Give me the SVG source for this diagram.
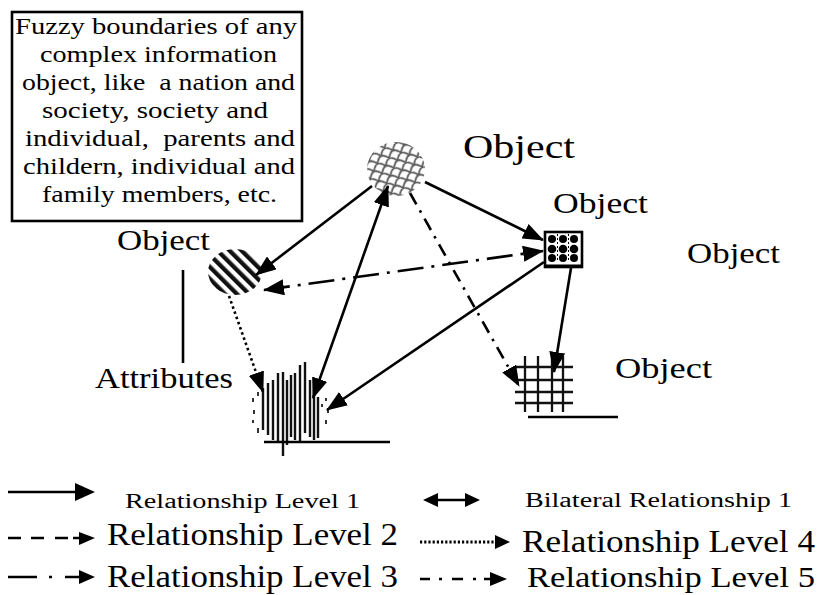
<svg xmlns="http://www.w3.org/2000/svg" width="821" height="595" viewBox="0 0 821 595">
<style>
text{font-family:"Liberation Serif","Times New Roman",serif;fill:#000}
.con{stroke:#000;stroke-width:2.6;fill:none}
.bar{stroke:#111;stroke-width:2.4;fill:none}
</style>
<defs>
<marker id="ah" markerUnits="userSpaceOnUse" markerWidth="21" markerHeight="16" refX="20" refY="8" orient="auto-start-reverse" viewBox="0 0 21 16"><path d="M0,0 L21,8 L0,16 z" fill="#000"/></marker>
<pattern id="scales" patternUnits="userSpaceOnUse" width="13" height="11" patternTransform="rotate(-25)">
<rect width="13" height="11" fill="#fff"/>
<path d="M0,11 Q6.5,0 13,11 M-6.5,5.5 Q0,-5.5 6.5,5.5 M6.5,5.5 Q13,-5.5 19.5,5.5" stroke="#5a5a5a" stroke-width="1.8" fill="none"/>
</pattern>
<pattern id="stripes" patternUnits="userSpaceOnUse" width="8.5" height="8.5" patternTransform="rotate(-45)">
<rect width="8.5" height="8.5" fill="#fff"/>
<rect width="4.3" height="8.5" fill="#111"/>
</pattern>
</defs>
<rect width="821" height="595" fill="#fff"/>

<g id="textbox">
<rect x="12" y="12" width="290" height="209" fill="#fff" stroke="#000" stroke-width="2.6"/>
<g font-size="23">
<text x="15" y="34" textLength="282" lengthAdjust="spacingAndGlyphs">Fuzzy boundaries of any</text>
<text x="40" y="62" textLength="237" lengthAdjust="spacingAndGlyphs">complex information</text>
<text x="22" y="90" textLength="273" lengthAdjust="spacingAndGlyphs" xml:space="preserve">object, like  a nation and</text>
<text x="42" y="118" textLength="226" lengthAdjust="spacingAndGlyphs">society, society and</text>
<text x="25" y="146" textLength="270" lengthAdjust="spacingAndGlyphs" xml:space="preserve">individual,  parents and</text>
<text x="23" y="174" textLength="272" lengthAdjust="spacingAndGlyphs">childern, individual and</text>
<text x="42" y="202" textLength="235" lengthAdjust="spacingAndGlyphs">family members, etc.</text>
</g>
</g>

<g id="labels">
<text x="463" y="158" font-size="34" textLength="112" lengthAdjust="spacingAndGlyphs">Object</text>
<text x="553" y="213" font-size="29" textLength="95" lengthAdjust="spacingAndGlyphs">Object</text>
<text x="687" y="263" font-size="29" textLength="93" lengthAdjust="spacingAndGlyphs">Object</text>
<text x="117" y="250" font-size="29" textLength="93" lengthAdjust="spacingAndGlyphs">Object</text>
<text x="615" y="378" font-size="29" textLength="97" lengthAdjust="spacingAndGlyphs">Object</text>
<text x="95" y="388" font-size="29" textLength="138" lengthAdjust="spacingAndGlyphs">Attributes</text>
<line x1="183" y1="270" x2="183" y2="363" stroke="#000" stroke-width="2.6"/>
</g>

<g id="node-top">
<ellipse cx="396" cy="169" rx="29" ry="27" fill="url(#scales)"/>
</g>

<g id="node-left">
<ellipse cx="235" cy="272" rx="27" ry="23" fill="url(#stripes)"/>
</g>

<g id="node-right">
<rect x="545" y="232" width="37" height="35" fill="#fff" stroke="#000" stroke-width="2.6"/>
<line x1="545" y1="266" x2="582" y2="266" stroke="#000" stroke-width="3"/>
<g stroke="#000" stroke-width="1" stroke-dasharray="2 2">
<line x1="557.5" y1="234" x2="557.5" y2="262"/>
<line x1="568.5" y1="234" x2="568.5" y2="262"/>
</g>
<g fill="#000">
<circle cx="552" cy="239" r="4"/><circle cx="563" cy="239" r="4"/><circle cx="574" cy="239" r="4"/>
<circle cx="552" cy="249" r="4.3"/><circle cx="563" cy="249" r="4.3"/><circle cx="574" cy="249" r="4.3"/>
<circle cx="552" cy="258" r="4"/><circle cx="563" cy="258" r="4"/><circle cx="574" cy="258" r="4"/>
</g>
</g>

<g id="node-fuzzy">
<path class="bar" d="M263,388V430 M268,383V435 M273,380V440 M278,373V443 M283,372V456 M287,380V445 M291,375V437 M295,373V440 M300,365V443 M305,362V433 M310,380V437 M314,390V440 M318,397V438"/>
<path d="M253,398V402 M254,410V414 M253,420V423 M258,392V396 M258,428V433 M326,398V401 M328,408V413 M326,420V424 M322,404V407" stroke="#333" stroke-width="2" fill="none"/>
<line x1="264" y1="442" x2="390" y2="442" stroke="#000" stroke-width="2.6"/>
</g>

<g id="node-grid">
<g stroke="#111" stroke-width="2.3">
<line x1="525" y1="356" x2="525" y2="412"/>
<line x1="538" y1="356" x2="538" y2="412"/>
<line x1="552" y1="356" x2="552" y2="412"/>
<line x1="563" y1="356" x2="563" y2="412"/>
<line x1="515" y1="367" x2="573" y2="367"/>
<line x1="515" y1="380" x2="573" y2="380"/>
<line x1="515" y1="392" x2="573" y2="392"/>
<line x1="515" y1="403" x2="573" y2="403"/>
</g>
<line x1="528" y1="417" x2="618" y2="417" stroke="#000" stroke-width="2.6"/>
</g>

<g id="connectors">
<line class="con" x1="372" y1="186" x2="256" y2="275" marker-end="url(#ah)"/>
<line class="con" x1="425" y1="182" x2="543" y2="240" marker-end="url(#ah)"/>
<line class="con" x1="388" y1="186" x2="313" y2="398" marker-start="url(#ah)" marker-end="url(#ah)"/>
<line class="con" x1="544" y1="262" x2="327" y2="410" marker-end="url(#ah)"/>
<line class="con" x1="571" y1="268" x2="554" y2="372" marker-end="url(#ah)"/>
<line class="con" x1="410" y1="193" x2="519" y2="386" stroke-dasharray="13 7 2.5 7" marker-end="url(#ah)"/>
<line class="con" x1="264" y1="290" x2="543" y2="251" stroke-dasharray="26 8 3 8" marker-start="url(#ah)" marker-end="url(#ah)"/>
<line class="con" x1="229" y1="296" x2="263" y2="392" stroke-width="3" stroke-dasharray="2.5 3" marker-end="url(#ah)"/>
</g>

<g id="legend">
<line x1="8" y1="492" x2="78" y2="492" stroke="#000" stroke-width="2.6"/>
<path d="M75,483 L95,492 L75,501 z" fill="#000"/>
<text x="125" y="508" font-size="20" textLength="235" lengthAdjust="spacingAndGlyphs">Relationship Level 1</text>

<path d="M8,538H21 M31,538H44 M55,538H68 M73,538H80" stroke="#000" stroke-width="2.6"/>
<path d="M79,532 L95,538 L79,545 z" fill="#000"/>
<text x="107" y="545" font-size="31" textLength="291" lengthAdjust="spacingAndGlyphs">Relationship Level 2</text>

<path d="M8,577H37 M49,577H52 M65,577H80" stroke="#000" stroke-width="2.6"/>
<path d="M79,570 L95,577 L79,584 z" fill="#000"/>
<text x="107" y="587" font-size="31" textLength="291" lengthAdjust="spacingAndGlyphs">Relationship Level 3</text>

<line x1="432" y1="500" x2="470" y2="500" stroke="#000" stroke-width="2.6"/>
<path d="M423,500 L438,493 L438,507 z M480,500 L465,493 L465,507 z" fill="#000"/>
<text x="525" y="507" font-size="20" textLength="267" lengthAdjust="spacingAndGlyphs">Bilateral Relationship 1</text>

<line x1="420" y1="542" x2="495" y2="542" stroke="#000" stroke-width="3" stroke-dasharray="2.2 2"/>
<path d="M495,535 L510,542 L495,549 z" fill="#000"/>
<text x="522" y="552" font-size="31" textLength="293" lengthAdjust="spacingAndGlyphs">Relationship Level 4</text>

<path d="M420,579H430 M439,579H442 M452,579H463 M473,579H476 M484,579H491" stroke="#000" stroke-width="2.6"/>
<path d="M490,572 L507,579 L490,586 z" fill="#000"/>
<text x="527" y="587" font-size="30" textLength="288" lengthAdjust="spacingAndGlyphs">Relationship Level 5</text>
</g>
</svg>
